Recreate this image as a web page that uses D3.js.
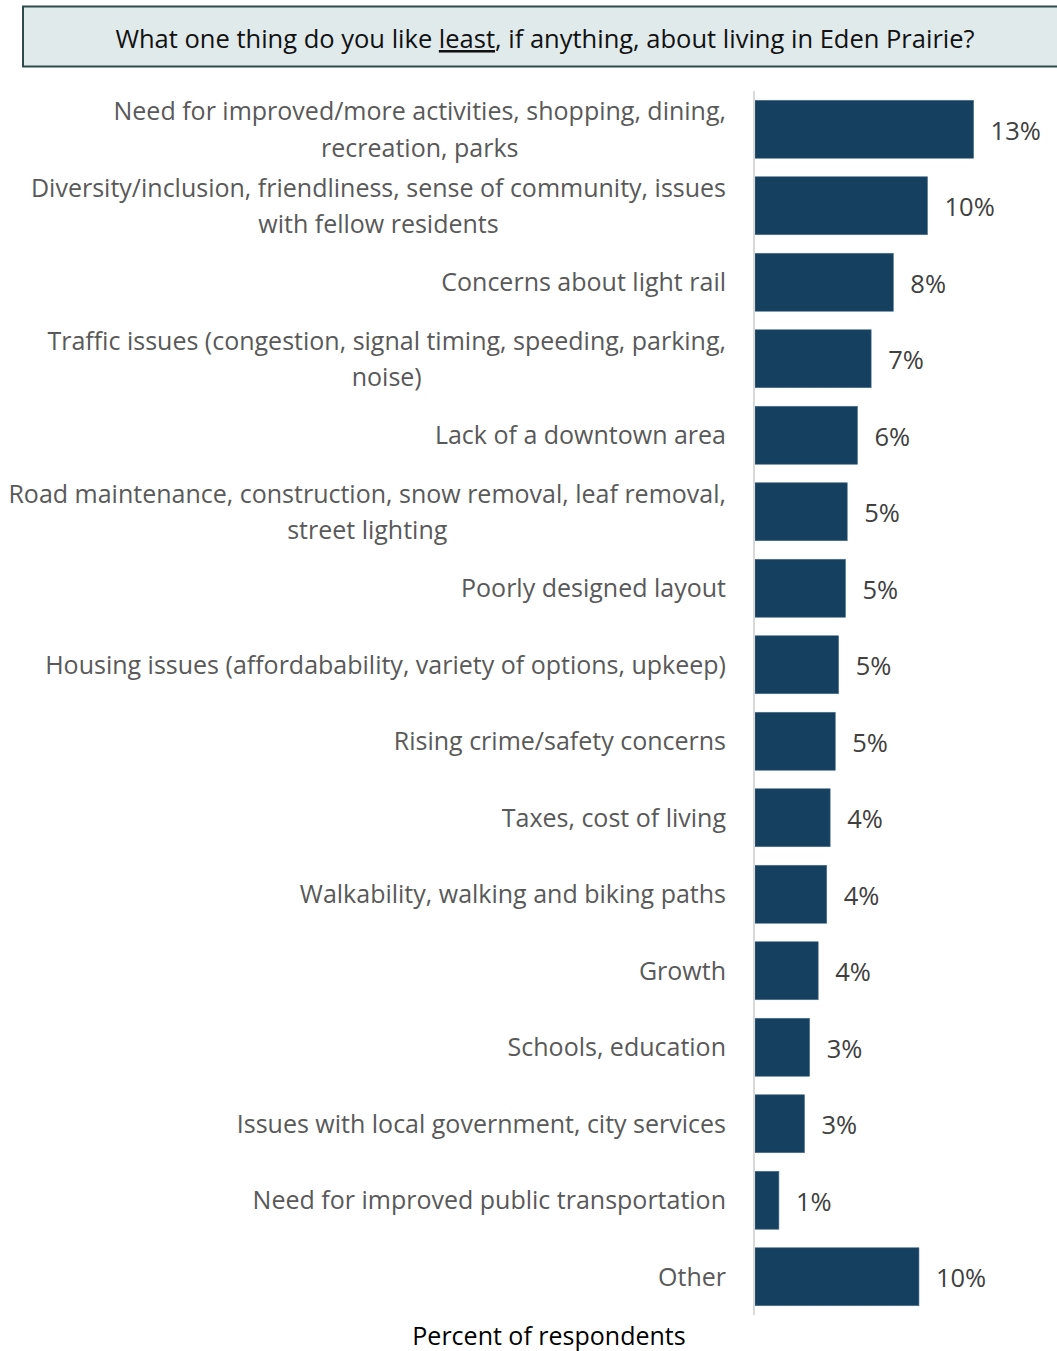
<!DOCTYPE html>
<html>
<head>
<meta charset="utf-8">
<script src="https://cdn.jsdelivr.net/npm/d3@7"></script>
<style>
  html, body { margin: 0; padding: 0; background: #ffffff; }
  svg { display: block; font-family: "Open Sans", "Noto Sans", sans-serif; }
</style>
</head>
<body>
<svg id="chart" width="1057" height="1351"></svg>
<script>
// Response categories (a "\n" marks where a long label wraps)
const categories = [
  "Need for improved/more activities, shopping, dining,\nrecreation, parks",
  "Diversity/inclusion, friendliness, sense of community, issues\nwith fellow residents",
  "Concerns about light rail",
  "Traffic issues (congestion, signal timing, speeding, parking,\nnoise)",
  "Lack of a downtown area",
  "Road maintenance, construction, snow removal, leaf removal,\nstreet lighting",
  "Poorly designed layout",
  "Housing issues (affordabability, variety of options, upkeep)",
  "Rising crime/safety concerns",
  "Taxes, cost of living",
  "Walkability, walking and biking paths",
  "Growth",
  "Schools, education",
  "Issues with local government, city services",
  "Need for improved public transportation",
  "Other"
];

// Percent of respondents naming each category
const percents = [12.8, 10.1, 8.1, 6.8, 6.0, 5.4, 5.3, 4.9, 4.7, 4.4, 4.2, 3.7, 3.2, 2.9, 1.4, 9.6];

const titleBefore = "What one thing do you like ";
const titleEmph = "least";
const titleAfter = ", if anything, about living in Eden Prairie?";
const axisTitle = "Percent of respondents";

const data = categories.map((c, i) => ({ category: c, value: percents[i] }));

const svg = d3.select("#chart");

// Question banner
svg.append("rect")
  .attr("x", 23).attr("y", 6.5)
  .attr("width", 1060).attr("height", 60)
  .attr("fill", "#e0eaeb")
  .attr("stroke", "#2e4a4c")
  .attr("stroke-width", 2);

const title = svg.append("text")
  .attr("x", 545).attr("y", 48)
  .attr("text-anchor", "middle")
  .attr("font-size", 25.5)
  .attr("fill", "#111111");
title.append("tspan").text(titleBefore);
title.append("tspan").attr("text-decoration", "underline").text(titleEmph);
title.append("tspan").text(titleAfter);

// Scales
const x = d3.scaleLinear().domain([0, 14]).range([755, 755 + 14 * 17.08]);
const y = d3.scaleBand()
  .domain(categories)
  .range([91, 1315])
  .paddingInner(0.242)
  .paddingOuter(0.121);

// Bars
svg.append("g")
  .selectAll("rect")
  .data(data)
  .join("rect")
  .attr("x", x(0))
  .attr("y", d => y(d.category))
  .attr("width", d => x(d.value) - x(0))
  .attr("height", y.bandwidth())
  .attr("fill", "#15405f")
  .attr("stroke", "#4f7391")
  .attr("stroke-width", 0.6);

// Vertical baseline at zero
svg.append("line")
  .attr("x1", 754).attr("x2", 754)
  .attr("y1", 91).attr("y2", 1315)
  .attr("stroke", "#d9d9d9")
  .attr("stroke-width", 2);

// Value labels
const fmt = d3.format(".0f");
svg.append("g")
  .selectAll("text")
  .data(data)
  .join("text")
  .attr("x", d => x(d.value) + 17)
  .attr("y", d => y(d.category) + y.bandwidth() / 2)
  .attr("dy", "0.42em")
  .attr("font-size", 25.5)
  .attr("fill", "#404040")
  .text(d => fmt(d.value) + "%");

// Category labels, right-aligned and centred on each bar
const labels = svg.append("g")
  .selectAll("text")
  .data(data)
  .join("text")
  .attr("text-anchor", "end")
  .attr("font-size", 25)
  .attr("fill", "#595959")
  .attr("y", d => y(d.category) + y.bandwidth() / 2);

const lineGap = 36.5;
labels.each(function (d) {
  const lines = d.category.split("\n");
  const t = d3.select(this);
  const cy = y(d.category) + y.bandwidth() / 2;
  lines.forEach((ln, i) => {
    const off = (i - (lines.length - 1) / 2) * lineGap;
    t.append("tspan")
      .attr("x", lines.length > 1 && i > 0 ? null : 726)
      .attr("y", cy + off)
      .attr("dy", "0.36em")
      .text(ln);
  });
});

// Wrapped continuation lines are centred under the first line
labels.each(function () {
  const spans = d3.select(this).selectAll("tspan").nodes();
  if (spans.length > 1) {
    const w0 = spans[0].getComputedTextLength();
    const mid = 726 - w0 / 2;
    for (let i = 1; i < spans.length; i++) {
      d3.select(spans[i]).attr("x", mid).attr("text-anchor", "middle");
    }
  }
});

// Axis title
svg.append("text")
  .attr("x", 549).attr("y", 1345)
  .attr("text-anchor", "middle")
  .attr("font-size", 25)
  .attr("fill", "#000000")
  .text(axisTitle);
</script>
</body>
</html>
